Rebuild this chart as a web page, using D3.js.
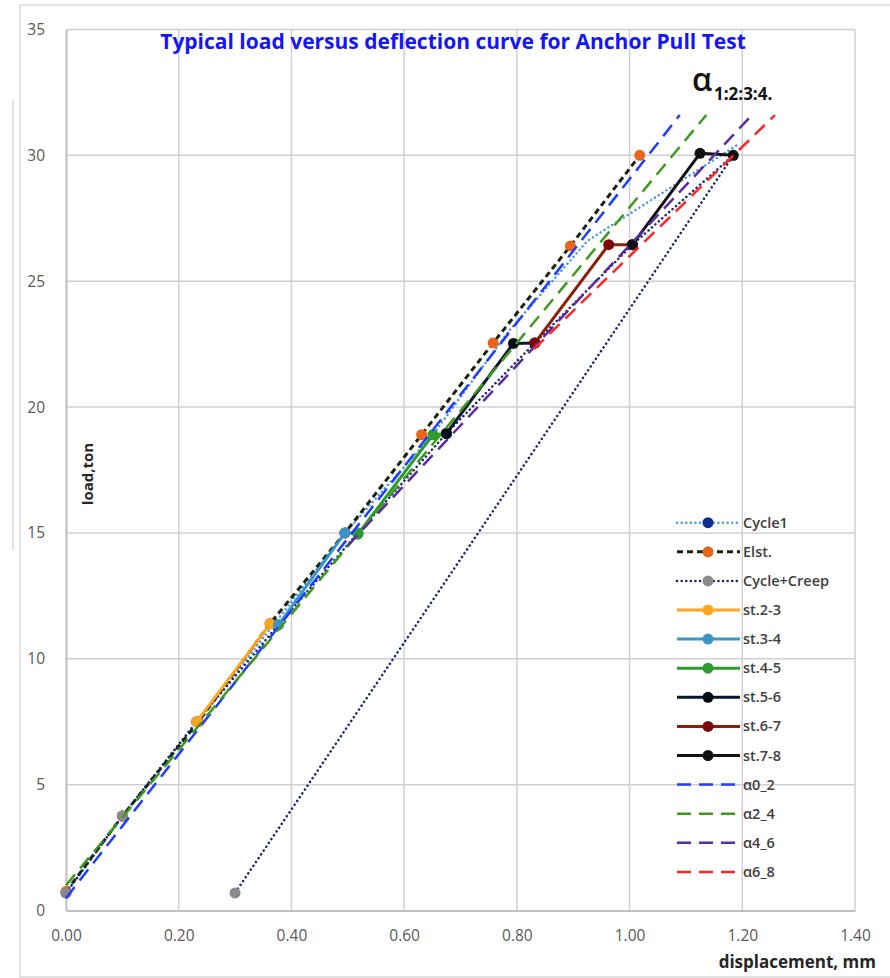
<!DOCTYPE html>
<html>
<head>
<meta charset="utf-8">
<script src="https://cdn.jsdelivr.net/npm/d3@7"></script>
<style>
  body { margin: 0; background: #fff; }
  svg { display: block; font-family: "Open Sans", Lato, sans-serif; }
</style>
</head>
<body>
<svg id="chart" width="890" height="978"></svg>
<script>
// displacement (mm), load (ton)
const cycle1 = [[0, 0.7], [0.10, 3.75], [0.232, 7.5], [0.37, 11.4], [0.495, 15], [0.651, 18.9], [0.785, 23.0], [0.925, 26.6], [1.19, 30.4]];
const elst = [[0, 0.75], [0.10, 3.75], [0.235, 7.5], [0.362, 11.4], [0.495, 15.0], [0.631, 18.9], [0.758, 22.55], [0.895, 26.4], [1.018, 30.0]];
const cycleCreep = [[0, 0.7], [0.10, 3.75], [0.232, 7.5], [0.377, 11.35], [0.518, 15], [0.675, 18.95], [0.832, 22.55], [1.005, 26.45], [1.184, 30], [0.30, 0.7]];
const st23 = [[0.232, 7.5], [0.362, 11.38], [0.377, 11.35]];
const st34 = [[0.377, 11.35], [0.495, 15.0], [0.518, 15.0]];
const st45 = [[0.518, 14.95], [0.651, 18.9], [0.675, 18.95]];
const st56 = [[0.675, 18.95], [0.794, 22.53], [0.832, 22.55]];
const st67 = [[0.832, 22.55], [0.963, 26.45], [1.005, 26.45]];
const st78 = [[1.005, 26.45], [1.125, 30.08], [1.184, 30.0]];
const a02 = [[0, 0.5], [1.089, 31.6]];
const a24 = [[0, 1.0], [1.136, 31.6]];
const a46 = [[0.50, 14.5], [1.217, 31.6]];
const a68 = [[0.83, 22.3], [1.258, 31.6]];

const xTicks = [0, 0.2, 0.4, 0.6, 0.8, 1.0, 1.2, 1.4];
const yTicks = [0, 5, 10, 15, 20, 25, 30, 35];

const series = [
  { name: "Cycle1", data: cycle1, color: "#4f9ad8", width: 2.5, dash: "0.1,4.5", cap: "round", marker: "#0b2d8c", markAt: [0, 1, 2, 3, 4] },
  { name: "Elst.", data: elst, color: "#17240c", width: 3, dash: "6,4", cap: "butt", marker: "#e8641a" },
  { name: "Cycle+Creep", data: cycleCreep, color: "#1c2668", width: 2.5, dash: "0.1,4.5", cap: "round", marker: "#8a8a8a" },
  { name: "st.2-3", data: st23, color: "#ffa51f", width: 3, marker: "#ffa51f" },
  { name: "st.3-4", data: st34, color: "#3c93c6", width: 3, marker: "#3c93c6" },
  { name: "st.4-5", data: st45, color: "#2f9a2f", width: 3, marker: "#2f9a2f" },
  { name: "st.5-6", data: st56, color: "#0b1730", width: 3, marker: "#050a18" },
  { name: "st.6-7", data: st67, color: "#8a1e06", width: 3, marker: "#7a0a0a" },
  { name: "st.7-8", data: st78, color: "#111111", width: 3, marker: "#111111" },
  { name: "\u03b10_2", data: a02, color: "#1f3dff", width: 2.5, dash: "14,8" },
  { name: "\u03b12_4", data: a24, color: "#3d9a1c", width: 2.5, dash: "14,8" },
  { name: "\u03b14_6", data: a46, color: "#5a2c9c", width: 2.5, dash: "14,8" },
  { name: "\u03b16_8", data: a68, color: "#ff2626", width: 2.5, dash: "14,8" }
];

const svg = d3.select("#chart");
const plotL = 66, plotR = 855, plotT = 29.5, plotB = 910.5;

const x = d3.scaleLinear().domain([0, 1.4]).range([plotL, plotR]);
const y = d3.scaleLinear().domain([0, 35]).range([plotB, plotT]);

// chart area frame
svg.append("rect").attr("x", 20).attr("y", 5).attr("width", 880).attr("height", 972)
  .attr("fill", "none").attr("stroke", "#d9d9d9").attr("stroke-width", 1.5);
svg.append("line").attr("x1", 13).attr("x2", 13).attr("y1", 100).attr("y2", 550)
  .attr("stroke", "#d9d9d9").attr("stroke-width", 1.5);

// grid
svg.append("g").selectAll("line").data(xTicks.slice(1)).join("line")
  .attr("x1", d => x(d)).attr("x2", d => x(d)).attr("y1", plotT).attr("y2", plotB)
  .attr("stroke", "#d0d0d0").attr("stroke-width", 1.5);
svg.append("g").selectAll("line").data(yTicks.slice(1)).join("line")
  .attr("x1", plotL).attr("x2", plotR).attr("y1", d => y(d)).attr("y2", d => y(d))
  .attr("stroke", "#d0d0d0").attr("stroke-width", 1.5);

// axes
const xAxis = svg.append("g").attr("transform", `translate(0,${plotB})`)
  .call(d3.axisBottom(x).tickValues(xTicks).tickFormat(d3.format(".2f")).tickSize(0).tickPadding(19));
const yAxis = svg.append("g").attr("transform", `translate(${plotL},0)`)
  .call(d3.axisLeft(y).tickValues(yTicks).tickSize(0).tickPadding(21));
[xAxis, yAxis].forEach(g => {
  g.select(".domain").attr("stroke", "#bfbfbf").attr("stroke-width", 2);
  g.selectAll("text").attr("fill", "#595959").style("font-size", "15.5px").style("font-family", "'Open Sans', sans-serif");
});

// series
const line = d3.line().x(d => x(d[0])).y(d => y(d[1]));
series.forEach(s => {
  svg.append("path").datum(s.data).attr("d", line)
    .attr("fill", "none").attr("stroke", s.color).attr("stroke-width", s.width)
    .attr("stroke-dasharray", s.dash || null).attr("stroke-linecap", s.cap || "butt")
    .attr("stroke-linejoin", "round");
  if (s.marker) {
    const pts = s.markAt ? s.markAt.map(i => s.data[i]) : s.data;
    svg.append("g").selectAll("circle").data(pts).join("circle")
      .attr("cx", d => x(d[0])).attr("cy", d => y(d[1])).attr("r", 5.5)
      .attr("fill", s.marker);
  }
});

// legend
const leg = svg.append("g");
series.forEach((s, i) => {
  const ly = 522.7 + i * 29.1;
  leg.append("line").attr("x1", 677).attr("x2", 740).attr("y1", ly).attr("y2", ly)
    .attr("stroke", s.color).attr("stroke-width", s.width)
    .attr("stroke-dasharray", s.dash || null).attr("stroke-linecap", s.cap || "butt");
  if (s.marker) {
    leg.append("circle").attr("cx", 708).attr("cy", ly).attr("r", 5.5).attr("fill", s.marker);
  }
  leg.append("text").attr("x", 743).attr("y", ly).attr("dy", "0.35em")
    .attr("fill", "#404040").style("font-size", "14.5px").style("font-weight", "600").text(s.name);
});

// titles
svg.append("text").attr("x", 453).attr("y", 49).attr("text-anchor", "middle")
  .attr("fill", "#1414ff").style("font-size", "21px").style("font-weight", "bold")
  .text("Typical load versus deflection curve for Anchor Pull Test");

svg.append("text").attr("x", 692).attr("y", 91).attr("fill", "#111")
  .style("font-size", "32px").style("font-weight", "600").text("\u03b1");
svg.append("text").attr("x", 714).attr("y", 100).attr("fill", "#111")
  .style("font-size", "17px").style("font-weight", "bold").text("1:2:3:4.");

svg.append("text").attr("transform", "translate(93,474) rotate(-90)").attr("text-anchor", "middle")
  .attr("fill", "#262626").style("font-size", "15px").style("font-weight", "bold").text("load,ton");

svg.append("text").attr("x", 876).attr("y", 968).attr("text-anchor", "end")
  .attr("fill", "#262626").style("font-size", "17px").style("font-weight", "bold").text("displacement, mm");
</script>
</body>
</html>
